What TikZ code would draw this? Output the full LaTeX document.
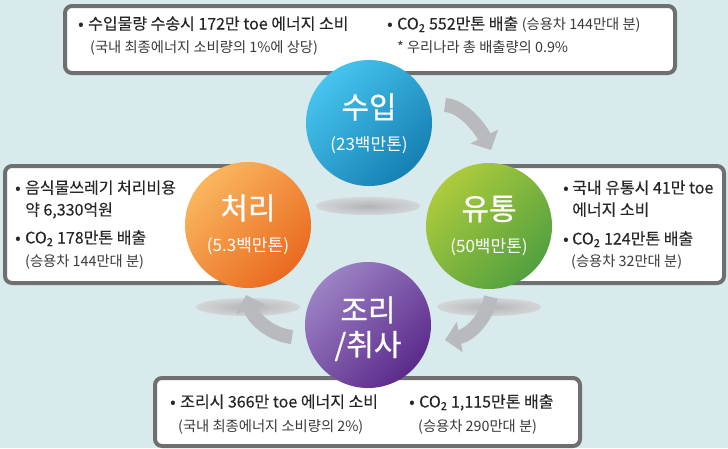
\documentclass[tikz,border=0pt]{standalone}
\usepackage{fontspec}
\setmainfont{Noto Sans CJK KR}
\newfontfamily\krmain[FakeBold=0.15]{Noto Sans CJK KR}
\newfontfamily\krtitle[FakeBold=0.6]{Noto Sans CJK KR}
\usetikzlibrary{arrows.meta}
\definecolor{bg}{HTML}{D9EAEC}
\definecolor{boxline}{HTML}{6E6F71}
\definecolor{txtc}{HTML}{262626}
\definecolor{subc}{HTML}{3A3A3A}
\definecolor{arrc}{HTML}{B9BABD}
\definecolor{sg}{HTML}{B2B5B7}
\definecolor{sm}{HTML}{CDD0D2}
\definecolor{sl}{HTML}{F0F4F5}
\definecolor{blueA}{HTML}{46C4EE}
\definecolor{blueB}{HTML}{1580B3}
\definecolor{orA}{HTML}{F9B65E}
\definecolor{orB}{HTML}{EA6A20}
\definecolor{grA}{HTML}{ADCB3C}
\definecolor{grB}{HTML}{52A03F}
\definecolor{puA}{HTML}{9C82C4}
\definecolor{puB}{HTML}{5B2A8B}
\pgfdeclareradialshading{shadowell}{\pgfpoint{0bp}{0bp}}{color(0bp)=(sg); color(20bp)=(sm); color(50bp)=(sl); color(60bp)=(sl)}
\newcommand\cotwo{CO\textsubscript{2}}
\begin{document}
\begin{tikzpicture}[x=1pt,y=-1pt,
  infobox/.style={draw=boxline, line width=4pt, fill=white, rounded corners=7pt},
  maintxt/.style={inner sep=0pt, anchor=west, text height=12pt, text depth=3pt, text=txtc, font=\krmain\fontsize{16}{18}\selectfont},
  subtxt/.style={inner sep=0pt, anchor=west, text height=12pt, text depth=3pt, text=subc, font=\fontsize{14.3}{16}\selectfont},
  bul/.style={maintxt},
  circ/.style={circle, minimum size=126pt, inner sep=0pt},
  ctitle/.style={text=white, inner sep=0pt, font=\krtitle\fontsize{30}{34}\selectfont},
  csub/.style={text=white, inner sep=0pt, font=\fontsize{17}{20}\selectfont},
  flowarrow/.style={draw=arrc, line width=14pt, -{Triangle[length=15pt,width=30pt]}},
  shadowell/.style={shading=shadowell}]
\fill[bg] (0,0) rectangle (728,448);
\useasboundingbox (0,0) rectangle (728,448);

% boxes
\draw[infobox] (65,6) rectangle (675,73);
\draw[infobox] (5,166) rectangle (262,283);
\draw[infobox] (478,166) rectangle (724,283);
\draw[infobox] (155,378) rectangle (580,446);

% shadows under circles
\shade[shadowell] (368,206) ellipse [x radius=52pt, y radius=9pt];
\shade[shadowell] (248,307) ellipse [x radius=52pt, y radius=9pt];
\shade[shadowell] (489,307) ellipse [x radius=52pt, y radius=9pt];

% arrows
\coordinate (a1s) at (445,105);
\coordinate (a1e) at (491,150);
\coordinate (a2s) at (491,297);
\coordinate (a2e) at (445,340);
\coordinate (a3s) at (292,337);
\coordinate (a3e) at (246,295);
\draw[flowarrow] (a1s) .. controls (463,106) and (480,128) .. (a1e);
\draw[flowarrow] (a2s) .. controls (487,318) and (470,335) .. (a2e);
\draw[flowarrow] (a3s) .. controls (272,335) and (254,320) .. (a3e);

% circles
\node[circ, top color=blueA, bottom color=blueB, shading angle=45] (imp) at (369,123) {};
\node[circ, top color=orA, bottom color=orB, shading angle=45] (proc) at (248,225) {};
\node[circ, top color=grA, bottom color=grB, shading angle=45] (dist) at (489,226) {};
\node[circ, top color=puA, bottom color=puB, shading angle=45] (cook) at (368,325) {};

\node[ctitle] (impT) at (369,107) {수입};
\node[csub] (impS) at (369,145) {(23백만톤)};
\node[ctitle] (procT) at (248,208) {처리};
\node[csub] (procS) at (248,246) {(5.3백만톤)};
\node[ctitle] (distT) at (489,209) {유통};
\node[csub] (distS) at (489,247) {(50백만톤)};
\node[ctitle] (cookT) at (368,310) {조리};
\node[ctitle] (cookU) at (368,346) {/취사};

% top box text
\node[bul] (tb1) at (78,25) {•};
\node[maintxt] (tt1) at (88,25) {수입물량 수송시 172만 toe 에너지 소비};
\node[subtxt] (tt2) at (90,48) {(국내 최종에너지 소비량의 1\%에 상당)};
\node[bul] (tb2) at (387,25) {•};
\node[maintxt] (tt3) at (397,25) {\cotwo{} 552만톤 배출 {\normalfont\fontsize{14.3}{16}\selectfont\color{subc}(승용차 144만대 분)}};
\node[subtxt] (tt4) at (397,48) {* 우리나라 총 배출량의 0.9\%};

% left box text
\node[bul] (lb1) at (15,189) {•};
\node[maintxt] (lt1) at (25,189) {음식물쓰레기 처리비용};
\node[maintxt] (lt2) at (25,211) {약 6,330억원};
\node[bul] (lb2) at (15,239) {•};
\node[maintxt] (lt3) at (25,239) {\cotwo{} 178만톤 배출};
\node[subtxt] (lt4) at (25,262) {(승용차 144만대 분)};

% right box text
\node[bul] (rb1) at (563,189) {•};
\node[maintxt] (rt1) at (572,189) {국내 유통시 41만 toe};
\node[maintxt] (rt2) at (572,211) {에너지 소비};
\node[bul] (rb2) at (563,240) {•};
\node[maintxt] (rt3) at (572,240) {\cotwo{} 124만톤 배출};
\node[subtxt] (rt4) at (571,262) {(승용차 32만대 분)};

% bottom box text
\node[bul] (bb1) at (170,403) {•};
\node[maintxt] (bt1) at (180,403) {조리시 366만 toe 에너지 소비};
\node[subtxt] (bt2) at (178,427) {(국내 최종에너지 소비량의 2\%)};
\node[bul] (bb2) at (409,403) {•};
\node[maintxt] (bt3) at (419,403) {\cotwo{} 1,115만톤 배출};
\node[subtxt] (bt4) at (418,427) {(승용차 290만대 분)};
\end{tikzpicture}
\end{document}
